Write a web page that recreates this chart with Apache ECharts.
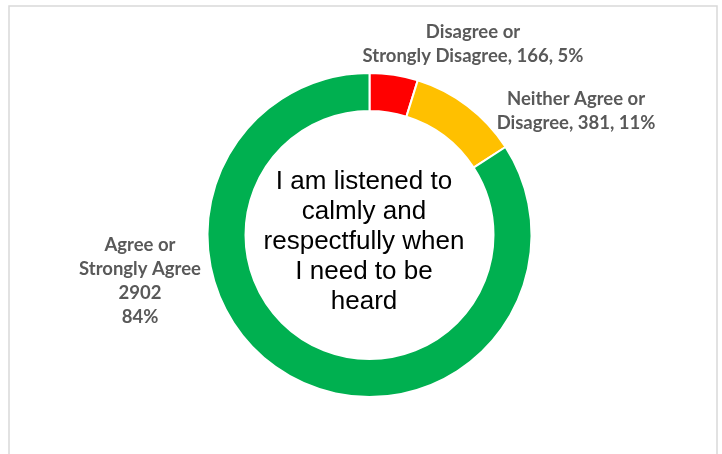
<!DOCTYPE html>
<html>
<head>
<meta charset="utf-8">
<script src="https://cdn.jsdelivr.net/npm/echarts@6/dist/echarts.min.js"></script>
<style>
html,body{margin:0;padding:0;background:#fff;}
#chart{width:722px;height:454px;}
</style>
</head>
<body>
<div id="chart"></div>
<script>
const categories = ['Disagree or\nStrongly Disagree', 'Neither Agree or\nDisagree', 'Agree or\nStrongly Agree'];
const values = [166, 381, 2902];
const colors = ['#FF0000', '#FFC000', '#00B050'];
const centerText = 'I am listened to\ncalmly and\nrespectfully when\nI need to be\nheard';

const labelSpots = [[473, 44], [576, 111], [140, 281]];

const chart = echarts.init(document.getElementById('chart'));
chart.setOption({
  animation: false,
  graphic: [
    {
      type: 'rect',
      shape: { x: 9, y: 6, width: 708, height: 460 },
      style: { fill: 'none', stroke: '#d9d9d9', lineWidth: 1.5 },
      silent: true
    },
    {
      type: 'text',
      x: 364,
      y: 242,
      style: {
        text: centerText,
        textAlign: 'center',
        textVerticalAlign: 'middle',
        font: '26px "Liberation Sans", Arial, sans-serif',
        lineHeight: 30,
        fill: '#000'
      },
      silent: true
    }
  ],
  series: [{
    type: 'pie',
    center: [369.5, 235],
    radius: [124, 162],
    startAngle: 90,
    clockwise: true,
    avoidLabelOverlap: false,
    itemStyle: { borderColor: '#fff', borderWidth: 2 },
    label: {
      show: true,
      position: 'outside',
      color: '#595959',
      fontFamily: 'Lato, "Open Sans", sans-serif',
      fontWeight: 'bold',
      fontSize: 18.5,
      lineHeight: 24,
      align: 'center',
      formatter: function (p) {
        const pct = Math.round(p.percent) + '%';
        if (p.dataIndex === 2) return p.name + '\n' + p.value + '\n' + pct;
        return p.name + ', ' + p.value + ', ' + pct;
      }
    },
    labelLine: { show: false },
    labelLayout: function (params) {
      const s = labelSpots[params.dataIndex];
      return { x: s[0], y: s[1], align: 'center', verticalAlign: 'middle' };
    },
    data: categories.map((c, i) => ({ name: c, value: values[i], itemStyle: { color: colors[i] } }))
  }]
});
</script>
</body>
</html>
